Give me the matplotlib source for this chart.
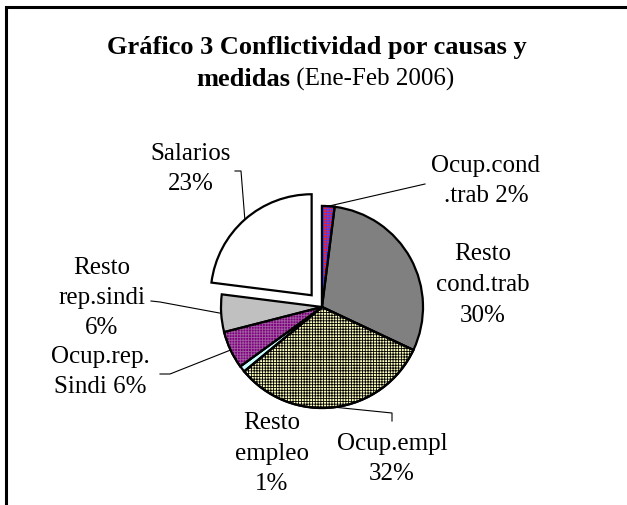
import numpy as np
import matplotlib
matplotlib.use("Agg")
import matplotlib.pyplot as plt
from matplotlib.patches import Wedge

# Conflictividad por causas y medidas (Ene-Feb 2006)
causas = ["Ocup.cond\n.trab", "Resto\ncond.trab", "Ocup.empl", "Resto\nempleo",
          "Ocup.rep.\nSindi", "Resto\nrep.sindi", "Salarios"]
porcentajes = [2, 30, 32, 1, 6, 6, 23]
explode = [0, 0, 0, 0, 0, 0, 0.155]
colores = ["#ff2020", "#808080", "#ffffc0", "#ccffff", "#800080", "#c0c0c0", "#ffffff"]
tramas = [("#4040ff", "++++++"), None, ("#000000", "++++++"), None,
          ("#a060a0", "++++++"), None, None]

W, H = 627, 506
plt.rcParams["font.family"] = ["Liberation Serif", "DejaVu Serif"]
plt.rcParams["hatch.linewidth"] = 0.6

fig = plt.figure(figsize=(W / 100, H / 100), dpi=100)
ax = fig.add_axes([0, 0, 1, 1])

cx, cy, R = 322, H - 308, 101
wedges, _ = ax.pie(porcentajes, colors=colores, explode=[e * R for e in explode],
                   startangle=90, counterclock=False, center=(cx, cy), radius=R,
                   wedgeprops=dict(edgecolor="black", linewidth=1.6))
ax.set_xlim(0, W)
ax.set_ylim(0, H)
ax.set_aspect("equal")
ax.axis("off")

for w, t in zip(wedges, tramas):
    if t is None:
        continue
    hc, hp = t
    ax.add_patch(Wedge(w.center, w.r, w.theta1, w.theta2, facecolor="none",
                       edgecolor=hc, linewidth=0, hatch=hp, zorder=w.get_zorder() + 0.1))
    ax.add_patch(Wedge(w.center, w.r, w.theta1, w.theta2, facecolor="none",
                       edgecolor="black", linewidth=1.6, zorder=w.get_zorder() + 0.2))

def punto(i):
    w = wedges[i]
    a = np.deg2rad((w.theta1 + w.theta2) / 2)
    return w.center[0] + w.r * np.cos(a), w.center[1] + w.r * np.sin(a)

# etiquetas (posicion del texto en pixeles, y hacia abajo)
etiquetas = [
    ("Ocup.cond\n.trab 2%", 486, 181),
    ("Resto\ncond.trab\n30%", 483, 285),
    ("Ocup.empl\n32%", 392, 459),
    ("Resto\nempleo\n1%", 272, 454),
    ("Ocup.rep.\nSindi 6%", 100, 372),
    ("Resto\nrep.sindi\n6%", 102, 298),
    ("Salarios\n23%", 191, 169),
]
for txt, x, y in etiquetas:
    ax.text(x, H - y, txt, ha="center", va="center", fontsize=18,
            linespacing=1.5, zorder=5)

# lineas guia
guias = {
    0: [(425, 185)],
    2: [(392, 414), (392, 422)],
    4: [(170, 375), (160, 375)],
    5: [(160, 303), (151, 302)],
    6: [(241, 172), (235, 172)],
}
for i, pts in guias.items():
    x0, y0 = punto(i)
    xs = [x0] + [p[0] for p in pts]
    ys = [y0] + [H - p[1] for p in pts]
    ax.plot(xs, ys, color="black", linewidth=0.8, zorder=4)

# titulo
ax.text(W / 2 + 3, H - 47, "Gráfico 3 Conflictividad por causas y", ha="center",
        va="center", fontsize=19, fontweight="bold")
ax.text(290, H - 79, "medidas", ha="right", va="center", fontsize=19, fontweight="bold")
ax.text(290, H - 79, " (Ene-Feb 2006)", ha="left", va="center", fontsize=18)

# marco
ax.plot([6, 6, W], [0, H - 8, H - 8], color="black", linewidth=2.2,
        solid_joinstyle="miter", zorder=6)

fig.savefig("out.png", dpi=100)
